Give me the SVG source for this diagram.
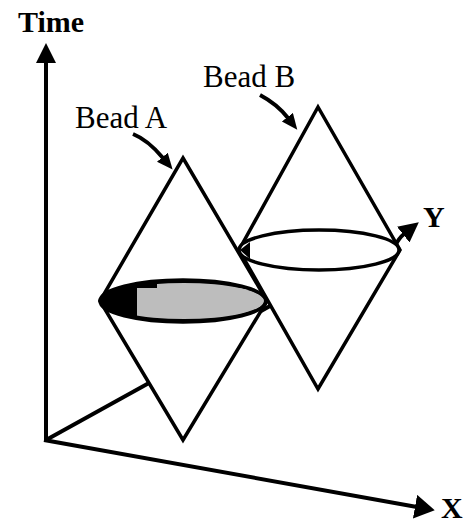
<svg xmlns="http://www.w3.org/2000/svg" width="466" height="524" viewBox="0 0 466 524">
  <style>
    .axis { stroke: #000; stroke-width: 4; fill: none; }
    .edge { stroke: #000; stroke-width: 3.5; fill: #fff; stroke-linejoin: miter; }
    .ptr { stroke: #000; stroke-width: 4; fill: none; }
    .lbl { font-size: 31px; fill: #000; }
    .axl { font-size: 30px; font-weight: bold; fill: #000; }
  </style>
  <defs>
    <marker id="axHead" markerUnits="userSpaceOnUse" markerWidth="22" markerHeight="22" refX="2" refY="10" orient="auto">
      <path d="M0,0 L20,10 L0,20 Z" fill="#000"/>
    </marker>
    <marker id="xHead" markerUnits="userSpaceOnUse" markerWidth="22" markerHeight="26" refX="2" refY="12" orient="auto">
      <path d="M0,0 L20,12 L0,24 Z" fill="#000"/>
    </marker>
    <marker id="yHead" markerUnits="userSpaceOnUse" markerWidth="22" markerHeight="22" refX="1" refY="10" orient="auto">
      <path d="M0,0 L20,10 L0,20 Z" fill="#000"/>
    </marker>
    <marker id="ptrHead" markerUnits="userSpaceOnUse" markerWidth="17" markerHeight="15" refX="1" refY="7" orient="auto">
      <path d="M0,0 L16,7 L0,14 Z" fill="#000"/>
    </marker>
    <clipPath id="clipA">
      <ellipse cx="184" cy="301" rx="80" ry="18"/>
    </clipPath>
  </defs>

  <g id="connectors">
    <path class="axis" d="M46,442 L46,61" marker-end="url(#axHead)"/>
    <path class="axis" d="M44,440 L417,507" marker-end="url(#xHead)"/>
    <path class="axis" d="M46,440 L149,383"/>
    <path class="axis" stroke-width="3" d="M252,316 L270,306"/>
    <path class="axis" d="M395,246 Q399,238 404,234" marker-end="url(#yHead)"/>
    <path class="ptr" d="M133,134 Q148,140 163,158" marker-end="url(#ptrHead)"/>
    <path class="ptr" d="M260,95 Q277,104 288,118" marker-end="url(#ptrHead)"/>
  </g>

  <g id="bead-b">
    <path class="edge" d="M318,107 L400,250 L318,389 L239,250 Z"/>
    <ellipse cx="319" cy="250" rx="80" ry="20" fill="#fff" stroke="#000" stroke-width="3.5"/>
    <path d="M240,250 L250,242 L250,259 Z" fill="#000"/>
    <text class="lbl" x="203" y="87" font-family="'Liberation Serif', 'Times New Roman', serif">Bead B</text>
  </g>

  <g id="bead-a">
    <path class="edge" d="M183,158 L267,301 L183,440 L100,301 Z"/>
    <ellipse cx="183" cy="301" rx="83" ry="21" fill="#000"/>
    <g clip-path="url(#clipA)">
      <rect x="137" y="288" width="140" height="40" fill="#bdbdbd"/>
      <rect x="157" y="280" width="120" height="10" fill="#bdbdbd"/>
    </g>
    <ellipse cx="183" cy="301" rx="83" ry="21" fill="none" stroke="#000" stroke-width="3.5"/>
    <text class="lbl" x="75" y="128" font-family="'Liberation Serif', 'Times New Roman', serif">Bead A</text>
  </g>

  <g id="axis-labels">
    <text class="axl" x="18" y="32" font-family="'Liberation Serif', 'Times New Roman', serif">Time</text>
    <text class="axl" x="423" y="227" font-family="'Liberation Serif', 'Times New Roman', serif">Y</text>
    <text class="axl" x="441" y="518" font-family="'Liberation Serif', 'Times New Roman', serif">X</text>
  </g>
</svg>
